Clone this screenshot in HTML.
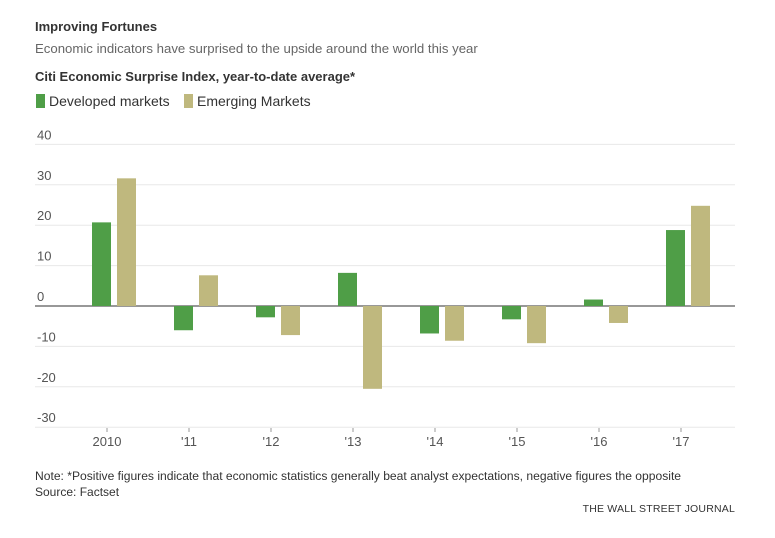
<!DOCTYPE html>
<html><head><meta charset="utf-8"><style>
body{margin:0;background:#fff;font-family:"Liberation Sans",sans-serif;}
svg text{font-family:"Liberation Sans",sans-serif;}
</style></head><body>
<svg width="775" height="533">
<text x="35" y="31" font-size="13" font-weight="bold" fill="#333">Improving Fortunes</text>
<text x="35" y="53" font-size="13.2" fill="#666">Economic indicators have surprised to the upside around the world this year</text>
<text x="35" y="81" font-size="13" font-weight="bold" fill="#333">Citi Economic Surprise Index, year-to-date average*</text>
<g>
<rect x="36" y="94" width="9" height="14" fill="#4f9e47"/>
<text x="49" y="106" font-size="14" fill="#333">Developed markets</text>
<rect x="184" y="94" width="9" height="14" fill="#bfb87e"/>
<text x="197" y="106" font-size="14" fill="#333">Emerging Markets</text>
</g>
<g id="plot"></g>
<text x="35" y="480" font-size="12.1" fill="#333">Note: *Positive figures indicate that economic statistics generally beat analyst expectations, negative figures the opposite</text>
<text x="35" y="496" font-size="12" fill="#333">Source: Factset</text>
<text x="735" y="512" font-size="10.5" fill="#333" text-anchor="end" letter-spacing="0.2">THE WALL STREET JOURNAL</text>
</svg>
<script>
const categories=["2010","'11","'12","'13","'14","'15","'16","'17"];
const developed=[20.7,-6,-2.8,8.2,-6.8,-3.3,1.6,18.8];
const emerging=[31.6,7.6,-7.2,-20.5,-8.6,-9.2,-4.2,24.8];
const yTicks=[40,30,20,10,0,-10,-20,-30];
const NS="http://www.w3.org/2000/svg";
const g=document.getElementById('plot');
const x0=35,x1=735;
function y(v){return 306-v*4.04;}
function cx(i){return 107+i*82;}
function mk(t,a){const e=document.createElementNS(NS,t);for(const k in a)e.setAttribute(k,a[k]);g.appendChild(e);return e;}
yTicks.forEach(v=>{
 const l=mk('line',{x1:x0,x2:x1,y1:y(v),y2:y(v),stroke:v===0?'#777':'#e8e8e8','stroke-width':v===0?1.5:1});
 
 
 const t=mk('text',{x:x0+2,y:y(v)-5,'font-size':13,fill:'#555'});
 t.textContent=v;
 
 
});
categories.forEach((c,i)=>{
 const t=mk('text',{x:cx(i),y:446,'font-size':13,fill:'#555','text-anchor':'middle'});
 t.textContent=c;
 
 
 const tk=mk('line',{x1:cx(i),x2:cx(i),y1:428,y2:432,stroke:'#999'});
 
 
 [[developed,'#4f9e47',-15,'bar-developed'],[emerging,'#bfb87e',10,'bar-emerging']].forEach(([arr,col,off,nm])=>{
  const v=arr[i];
  const r=mk('rect',{x:cx(i)+off,width:19,y:Math.min(y(v),y(0)),height:Math.abs(y(v)-y(0)),fill:col});
  
  
 });
});
</script>
</body></html>
